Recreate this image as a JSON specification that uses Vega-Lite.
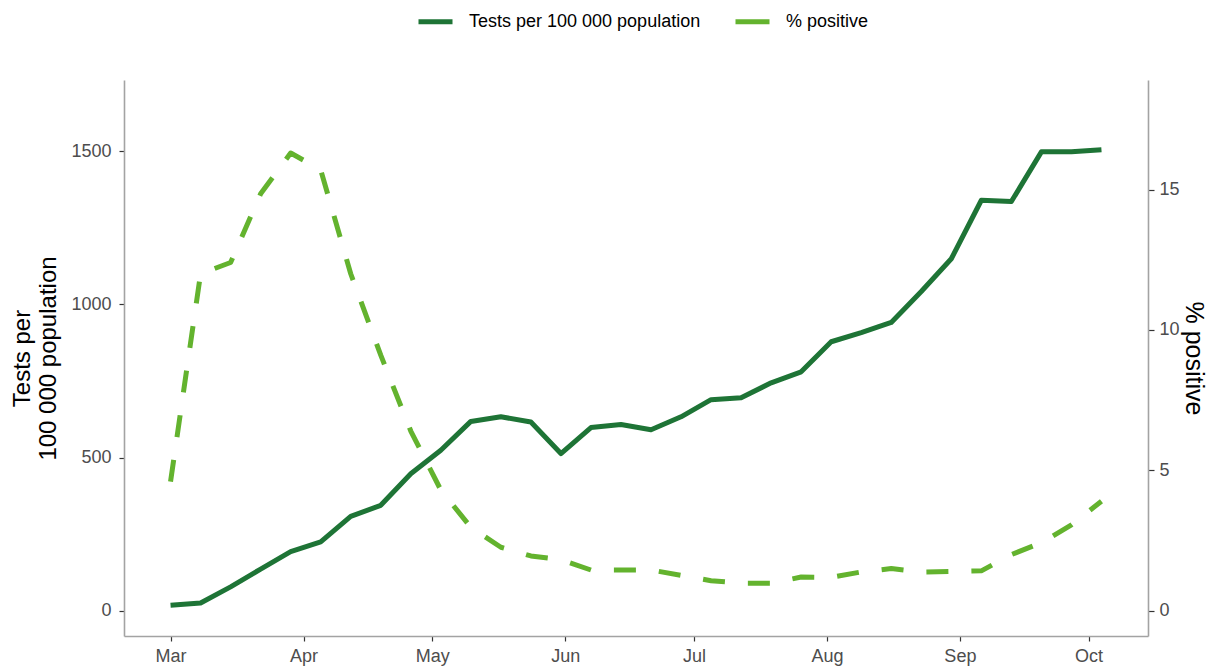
{
  "$schema": "https://vega.github.io/schema/vega-lite/v6.json",
  "width": 1024,
  "height": 556,
  "autosize": {"type": "none"},
  "padding": {"left": 124, "top": 80, "right": 60, "bottom": 34},
  "background": "white",
  "config": {
    "view": {"stroke": null},
    "font": "Liberation Sans",
    "axis": {
      "grid": false,
      "domainColor": "#a3a3a3",
      "domainWidth": 1.6,
      "tickColor": "#333333",
      "tickWidth": 1.2,
      "tickSize": 5,
      "labelColor": "#4d4d4d",
      "labelFontSize": 18,
      "labelFont": "Liberation Sans",
      "titleFont": "Liberation Sans",
      "titleColor": "#000000",
      "titleFontSize": 24,
      "titleFontWeight": "normal"
    }
  },
  "data": {
    "values": [
      {"date": "2020-03-01", "series": "Tests per 100 000 population", "value": 18},
      {"date": "2020-03-08", "series": "Tests per 100 000 population", "value": 25},
      {"date": "2020-03-15", "series": "Tests per 100 000 population", "value": 78},
      {"date": "2020-03-22", "series": "Tests per 100 000 population", "value": 136},
      {"date": "2020-03-29", "series": "Tests per 100 000 population", "value": 193},
      {"date": "2020-04-05", "series": "Tests per 100 000 population", "value": 225},
      {"date": "2020-04-12", "series": "Tests per 100 000 population", "value": 308},
      {"date": "2020-04-19", "series": "Tests per 100 000 population", "value": 344},
      {"date": "2020-04-26", "series": "Tests per 100 000 population", "value": 447},
      {"date": "2020-05-03", "series": "Tests per 100 000 population", "value": 524},
      {"date": "2020-05-10", "series": "Tests per 100 000 population", "value": 618},
      {"date": "2020-05-17", "series": "Tests per 100 000 population", "value": 633},
      {"date": "2020-05-24", "series": "Tests per 100 000 population", "value": 616},
      {"date": "2020-05-31", "series": "Tests per 100 000 population", "value": 513},
      {"date": "2020-06-07", "series": "Tests per 100 000 population", "value": 598},
      {"date": "2020-06-14", "series": "Tests per 100 000 population", "value": 608},
      {"date": "2020-06-21", "series": "Tests per 100 000 population", "value": 591},
      {"date": "2020-06-28", "series": "Tests per 100 000 population", "value": 633},
      {"date": "2020-07-05", "series": "Tests per 100 000 population", "value": 689},
      {"date": "2020-07-12", "series": "Tests per 100 000 population", "value": 695},
      {"date": "2020-07-19", "series": "Tests per 100 000 population", "value": 744},
      {"date": "2020-07-26", "series": "Tests per 100 000 population", "value": 780},
      {"date": "2020-08-02", "series": "Tests per 100 000 population", "value": 878},
      {"date": "2020-08-09", "series": "Tests per 100 000 population", "value": 908},
      {"date": "2020-08-16", "series": "Tests per 100 000 population", "value": 941},
      {"date": "2020-08-23", "series": "Tests per 100 000 population", "value": 1042},
      {"date": "2020-08-30", "series": "Tests per 100 000 population", "value": 1149},
      {"date": "2020-09-06", "series": "Tests per 100 000 population", "value": 1340},
      {"date": "2020-09-13", "series": "Tests per 100 000 population", "value": 1336},
      {"date": "2020-09-20", "series": "Tests per 100 000 population", "value": 1498},
      {"date": "2020-09-27", "series": "Tests per 100 000 population", "value": 1498},
      {"date": "2020-10-04", "series": "Tests per 100 000 population", "value": 1505},
      {"date": "2020-03-01", "series": "% positive", "value": 4.6},
      {"date": "2020-03-08", "series": "% positive", "value": 12.0},
      {"date": "2020-03-15", "series": "% positive", "value": 12.4},
      {"date": "2020-03-22", "series": "% positive", "value": 14.85},
      {"date": "2020-03-29", "series": "% positive", "value": 16.3},
      {"date": "2020-04-05", "series": "% positive", "value": 15.7},
      {"date": "2020-04-12", "series": "% positive", "value": 12.0},
      {"date": "2020-04-19", "series": "% positive", "value": 9.1},
      {"date": "2020-04-26", "series": "% positive", "value": 6.4},
      {"date": "2020-05-03", "series": "% positive", "value": 4.3},
      {"date": "2020-05-10", "series": "% positive", "value": 2.97},
      {"date": "2020-05-17", "series": "% positive", "value": 2.26},
      {"date": "2020-05-24", "series": "% positive", "value": 1.95},
      {"date": "2020-05-31", "series": "% positive", "value": 1.82},
      {"date": "2020-06-07", "series": "% positive", "value": 1.45},
      {"date": "2020-06-14", "series": "% positive", "value": 1.45},
      {"date": "2020-06-21", "series": "% positive", "value": 1.45},
      {"date": "2020-06-28", "series": "% positive", "value": 1.26},
      {"date": "2020-07-05", "series": "% positive", "value": 1.07},
      {"date": "2020-07-12", "series": "% positive", "value": 0.98},
      {"date": "2020-07-19", "series": "% positive", "value": 0.98},
      {"date": "2020-07-26", "series": "% positive", "value": 1.2},
      {"date": "2020-08-02", "series": "% positive", "value": 1.19},
      {"date": "2020-08-09", "series": "% positive", "value": 1.38},
      {"date": "2020-08-16", "series": "% positive", "value": 1.5},
      {"date": "2020-08-23", "series": "% positive", "value": 1.38},
      {"date": "2020-08-30", "series": "% positive", "value": 1.4},
      {"date": "2020-09-06", "series": "% positive", "value": 1.42},
      {"date": "2020-09-13", "series": "% positive", "value": 2.0},
      {"date": "2020-09-20", "series": "% positive", "value": 2.42},
      {"date": "2020-09-27", "series": "% positive", "value": 3.06},
      {"date": "2020-10-04", "series": "% positive", "value": 3.9}
    ]
  },
  "encoding": {
    "x": {
      "field": "date",
      "type": "temporal",
      "scale": {
        "type": "utc",
        "domain": [
          {"year": 2020, "month": 2, "date": 19, "hours": 3, "minutes": 36, "utc": true},
          {"year": 2020, "month": 10, "date": 14, "hours": 20, "minutes": 24, "utc": true}
        ]
      },
      "axis": {
        "title": null,
        "labelExpr": "utcFormat(datum.value, '%b')",
        "labelPadding": 6,
        "values": [
          {"year": 2020, "month": 3, "date": 1, "utc": true},
          {"year": 2020, "month": 4, "date": 1, "utc": true},
          {"year": 2020, "month": 5, "date": 1, "utc": true},
          {"year": 2020, "month": 6, "date": 1, "utc": true},
          {"year": 2020, "month": 7, "date": 1, "utc": true},
          {"year": 2020, "month": 8, "date": 1, "utc": true},
          {"year": 2020, "month": 9, "date": 1, "utc": true},
          {"year": 2020, "month": 10, "date": 1, "utc": true}
        ]
      }
    },
    "color": {
      "field": "series",
      "type": "nominal",
      "scale": {
        "domain": ["Tests per 100 000 population", "% positive"],
        "range": ["#1e7436", "#63b32e"]
      },
      "legend": {
        "title": null,
        "orient": "none",
        "legendX": 292,
        "legendY": -78,
        "direction": "horizontal",
        "symbolType": "stroke",
        "symbolSize": 1156,
        "symbolStrokeWidth": 5,
        "labelFontSize": 18,
        "labelColor": "#000000",
        "labelFont": "Liberation Sans",
        "labelLimit": 400,
        "columnPadding": 24,
        "labelOffset": 14,
        "padding": 0
      }
    }
  },
  "layer": [
    {
      "transform": [{"filter": "datum.series === 'Tests per 100 000 population'"}],
      "mark": {"type": "line", "strokeWidth": 5, "strokeCap": "butt", "strokeJoin": "round"},
      "encoding": {
        "y": {
          "field": "value",
          "type": "quantitative",
          "scale": {"domain": [-82.5, 1732.5], "nice": false, "zero": false},
          "axis": {
            "orient": "left",
            "values": [0, 500, 1000, 1500],
            "format": "d",
            "title": ["Tests per", "100 000 population"],
            "titleLineHeight": 26,
            "labelPadding": 8,
            "titlePadding": 10
          }
        }
      }
    },
    {
      "transform": [{"filter": "datum.series === '% positive'"}],
      "mark": {"type": "line", "strokeWidth": 5, "strokeCap": "butt", "strokeJoin": "round", "strokeDash": [22, 23]},
      "encoding": {
        "y": {
          "field": "value",
          "type": "quantitative",
          "scale": {"domain": [-0.9, 18.9], "nice": false, "zero": false},
          "axis": {
            "orient": "right",
            "values": [0, 5, 10, 15],
            "format": "d",
            "title": "% positive",
            "titleFontSize": 25,
            "tickSize": 6,
            "labelPadding": 5,
            "titlePadding": 1
          }
        }
      }
    }
  ],
  "resolve": {"scale": {"y": "independent"}}
}
